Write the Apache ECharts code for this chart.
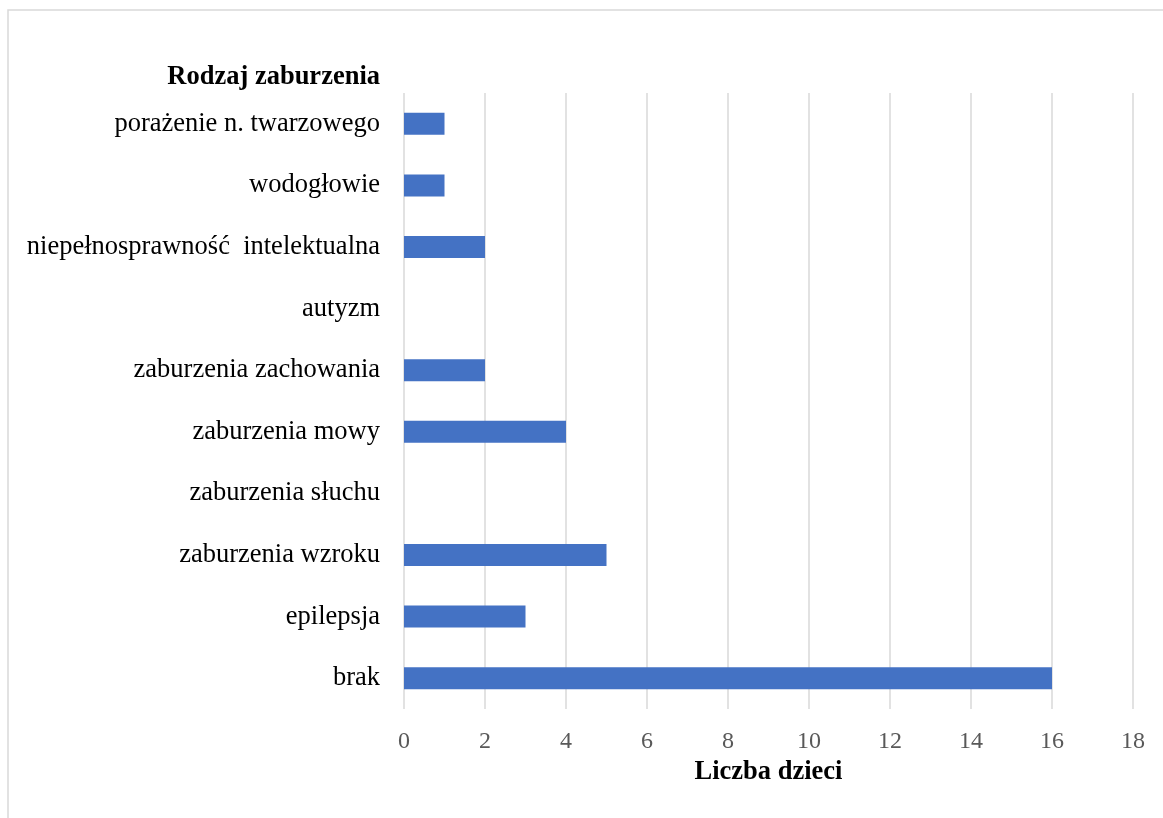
<!DOCTYPE html>
<html>
<head>
<meta charset="utf-8">
<script src="https://cdn.jsdelivr.net/npm/echarts@6/dist/echarts.min.js"></script>
<style>
html,body{margin:0;padding:0;background:#fff;}
#chart{width:1163px;height:818px;}
</style>
</head>
<body>
<div id="chart"></div>
<script>
const categories = ['brak','epilepsja','zaburzenia wzroku','zaburzenia słuchu','zaburzenia mowy','zaburzenia zachowania','autyzm','niepełnosprawność  intelektualna','wodogłowie','porażenie n. twarzowego'];
const values = [16,3,5,0,4,2,0,2,1,1];
const xTicks = {min:0,max:18,interval:2};

const chart = echarts.init(document.getElementById('chart'));
chart.setOption({
  animation:false,
  backgroundColor:'#fff',
  graphic:[{
    type:'rect', silent:true,
    shape:{x:8,y:10,width:1300,height:1000},
    style:{fill:'none',stroke:'#d9d9d9',lineWidth:1.5}
  }],
  grid:{left:404,right:30,top:93,bottom:109,containLabel:false},
  xAxis:{
    type:'value', min:xTicks.min, max:xTicks.max, interval:xTicks.interval,
    name:'Liczba dzieci', nameLocation:'middle', nameGap:44,
    nameTextStyle:{fontFamily:'Liberation Serif',fontSize:26.5,fontWeight:'bold',color:'#000'},
    axisLine:{show:false}, axisTick:{show:false},
    axisLabel:{fontFamily:'Liberation Serif',fontSize:24,color:'#595959',margin:21},
    splitLine:{show:true,lineStyle:{color:'#d9d9d9',width:1.5}}
  },
  yAxis:{
    type:'category', data:categories,
    name:'Rodzaj zaburzenia', nameLocation:'end', nameGap:2,
    nameTextStyle:{fontFamily:'Liberation Serif',fontSize:26.5,fontWeight:'bold',color:'#000',align:'right',padding:[0,24,0,0]},
    axisLine:{show:false}, axisTick:{show:false},
    axisLabel:{fontFamily:'Liberation Serif',fontSize:26.5,color:'#000',margin:24},
    splitLine:{show:false}
  },
  series:[{
    type:'bar', data:values, barWidth:22,
    itemStyle:{color:'#4472C4'}
  }]
});
</script>
</body>
</html>
